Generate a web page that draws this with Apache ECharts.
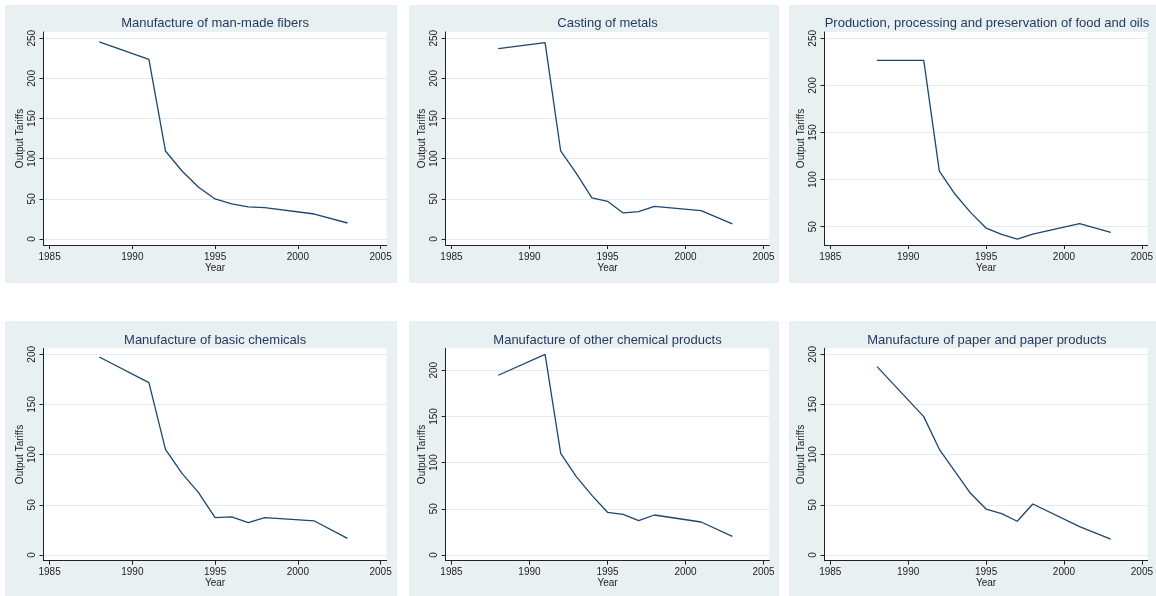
<!doctype html>
<html lang="en">
<head>
	<meta charset="UTF-8">
	<title>Output Tariffs by industry</title>
	<script src="https://cdn.jsdelivr.net/npm/echarts@6/dist/echarts.min.js"></script>
	<style>
		html, body { margin: 0; padding: 0; background: #fff; }
		#main { width: 1156px; height: 596px; }
	</style>
</head>
<body>
<div id="main"></div>
<script type="text/javascript">
	// years with observations
	var years = [1988, 1991, 1992, 1993, 1994, 1995, 1996, 1997, 1998, 2001, 2003];

	// output tariffs, one array per industry
	var fibers = [245.4, 223.8, 109.6, 84.7, 64.4, 49.8, 43.6, 39.9, 39.0, 31.1, 19.9];
	var metals = [237.1, 244.6, 109.6, 81.8, 51.1, 46.9, 32.4, 34.1, 40.7, 35.3, 18.7];
	var food = [226.6, 226.6, 109.1, 84.7, 65.2, 48.6, 41.9, 36.9, 42.2, 53.2, 44.0];
	var basicChem = [197.3, 171.8, 105.3, 81.4, 62.1, 37.2, 37.9, 32.2, 37.2, 33.9, 16.6];
	var otherChem = [194.6, 217.3, 110.1, 84.8, 64.6, 46.2, 44.0, 37.2, 43.3, 35.7, 20.2];
	var paper = [187.7, 137.9, 105.3, 83.4, 61.5, 45.8, 41.2, 33.6, 50.8, 28.2, 15.9];

	var titles = [
		'Manufacture of man-made fibers',
		'Casting of metals',
		'Production, processing and preservation of food and oils',
		'Manufacture of basic chemicals',
		'Manufacture of other chemical products',
		'Manufacture of paper and paper products'
	];
	var values = [fibers, metals, food, basicChem, otherChem, paper];

	// tick labels
	var xTicks = [1985, 1990, 1995, 2000, 2005];
	var yTicks250 = [0, 50, 100, 150, 200, 250];
	var yTicksFood = [50, 100, 150, 200, 250];
	var yTicks200 = [0, 50, 100, 150, 200];
	var yTicks = [yTicks250, yTicks250, yTicksFood, yTicks200, yTicks200, yTicks200];

	// layout (pixels)
	var cols = [
		{left: 43.5, width: 343.2, bgX: 5, bgW: 392},
		{left: 445.7, width: 323.6, bgX: 409, bgW: 370},
		{left: 824.5, width: 324.8, bgX: 789, bgW: 367}
	];
	var rows = [
		{top: 32, height: 213, bgY: 5, bgH: 278, titleTop: 17},
		{top: 348.3, height: 212.4, bgY: 321, bgH: 275, titleTop: 333.5}
	];
	var yRanges = [[-7.5, 257.8], [-7.5, 257.8], [30.6, 256.7], [-5.7, 206], [-6.2, 223.8], [-5.7, 206]];

	var font = 'Liberation Sans, Arial, sans-serif';
	var panelBg = '#e9f0f2';
	var lineColor = '#1a476f';

	var option = {
		animation: false,
		backgroundColor: '#ffffff',
		title: [], grid: [], xAxis: [], yAxis: [], series: [],
		graphic: []
	};

	for (var i = 0; i < 6; i++) {
		var c = cols[i % 3], r = rows[Math.floor(i / 3)];
		option.graphic.push({
			type: 'rect', z: -10, silent: true,
			shape: {x: c.bgX, y: r.bgY, width: c.bgW, height: r.bgH},
			style: {fill: panelBg}
		});
		option.title.push({
			text: titles[i],
			left: c.left + c.width / 2,
			top: r.titleTop,
			textAlign: 'center',
			padding: 0,
			textStyle: {fontFamily: font, fontSize: 13, fontWeight: 'normal', color: '#243a5e'}
		});
		option.grid.push({
			left: c.left, top: r.top, width: c.width, height: r.height,
			show: true, backgroundColor: '#ffffff', borderWidth: 0
		});
		option.xAxis.push({
			type: 'value', gridIndex: i,
			min: 1984.63, max: 2005.37,
			name: 'Year', nameLocation: 'middle', nameGap: 16,
			nameTextStyle: {fontFamily: font, fontSize: 10, color: '#222'},
			axisLine: {show: true, onZero: false, lineStyle: {color: '#222', width: 1}},
			axisTick: {show: true, inside: false, length: 4, customValues: xTicks, lineStyle: {color: '#222'}},
			axisLabel: {
				customValues: xTicks, margin: 7, fontFamily: font, fontSize: 10, color: '#222',
				formatter: function (v) { return String(v); }
			},
			splitLine: {show: false}
		});
		option.yAxis.push({
			type: 'value', gridIndex: i,
			min: yRanges[i][0], max: yRanges[i][1],
			name: 'Output Tariffs', nameLocation: 'middle', nameGap: 18,
			nameTextStyle: {fontFamily: font, fontSize: 10, color: '#222'},
			axisLine: {show: true, onZero: false, lineStyle: {color: '#222', width: 1}},
			axisTick: {show: true, inside: false, length: 4, customValues: yTicks[i], lineStyle: {color: '#222'}},
			axisLabel: {
				customValues: yTicks[i], rotate: 90, margin: 6, fontFamily: font, fontSize: 10, color: '#222',
				formatter: function (v) { return String(v); }
			},
			splitLine: {show: true, lineStyle: {color: '#e3ebee', width: 1}}
		});
		var pts = [];
		for (var k = 0; k < years.length; k++) pts.push([years[k], values[i][k]]);
		option.series.push({
			type: 'line', xAxisIndex: i, yAxisIndex: i,
			data: pts, showSymbol: false, symbol: 'none',
			lineStyle: {color: lineColor, width: 1.3}
		});
	}

	var myChart = echarts.init(document.getElementById('main'));
	myChart.setOption(option);
</script>
</body>
</html>
